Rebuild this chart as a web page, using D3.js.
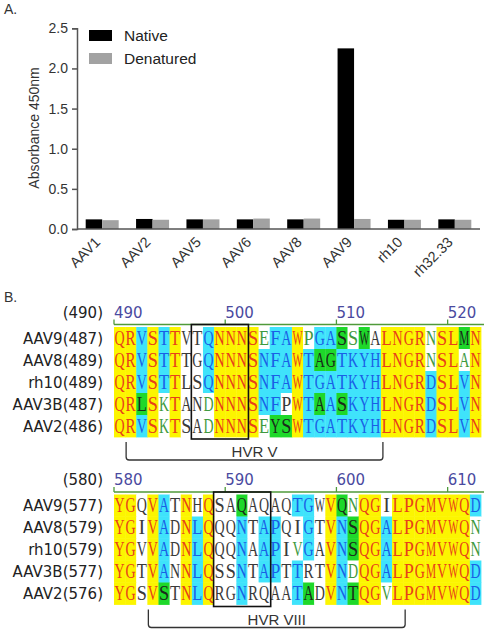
<!DOCTYPE html>
<html>
<head>
<meta charset="utf-8">
<script src="https://cdn.jsdelivr.net/npm/d3@7"></script>
<style>
  body { margin: 0; background: #fff; }
  svg { display: block; }
</style>
</head>
<body>
<div id="space"></div>
<script>
// Panel A data
const serotypes = ["AAV1", "AAV2", "AAV5", "AAV6", "AAV8", "AAV9", "rh10", "rh32.33"];
const nativeVals = [0.12, 0.125, 0.12, 0.12, 0.12, 2.25, 0.115, 0.12];
const denaturedVals = [0.11, 0.115, 0.12, 0.13, 0.13, 0.125, 0.115, 0.115];
const seriesNames = ["Native", "Denatured"];
const yTicks = [0, 0.5, 1.0, 1.5, 2.0, 2.5];

// Panel B data
const alignNames = ["AAV9", "AAV8", "rh10", "AAV3B", "AAV2"];
const block1Start = 490;
const block1Offsets = [487, 489, 489, 487, 486];
const block1Seqs = [
  "QRVSTTVTQNNNSEFAWPGASSWALNGRNSLMN",
  "QRVSTTTGQNNNSNFAWTAGTKYHLNGRNSLAN",
  "QRVSTTLSQNNNSNFAWTGATKYHLNGRDSLVN",
  "QRLSKTANDNNNSNFPWTAASKYHLNGRDSLVN",
  "QRVSKTSADNNNSEYSWTGATKYHLNGRDSLVN"
];
// Y identical, C conserved, G similar block, g weak similar, w non-similar
const block1Marks = [
  "YYCYCYwwCYYYYgCCYgCCGgGwYYYYgYYGY",
  "YYCYCYwwCYYYYCCCYCGGCCCCYYYYgYYgY",
  "YYCYCYwwCYYYYCCCYCCCCCCCYYYYCYYCY",
  "YYGYgYwwgYYYYCCwYCGCGCCCYYYYCYYCY",
  "YYCYgYwwgYYYYgGGYCCCCCCCYYYYCYYCY"
];
const block1Ticks = [490, 500, 510, 520];
const block2Start = 580;
const block2Offsets = [577, 579, 579, 577, 576];
const block2Seqs = [
  "YGQVATNHQSAQAQAQTGWVQNQGILPGMVWQD",
  "YGIVADNLQQQNTAPQIGTVNSQGALPGMVWQN",
  "YGVVADNLQQQNAAPIVGAVNSQGALPGMVWQN",
  "YGTVANNLQSSNTAPTTRTVNDQGALPGMVWQD",
  "YGSVSTNLQRGNRQAATADVNTQGVLPGMVWQD"
];
const block2Marks = [
  "YYwYCwYwYwwGwwwwCCwYGgYYwYYYYYYYC",
  "YYwYCwYCYwwCwCCwwCwYCGYYCYYYYYYYg",
  "YYwYCwYCYwwCwCCwgCwYCGYYCYYYYYYYg",
  "YYwYCwYCYwwCwCCwCwwYCgYYCYYYYYYYC",
  "YYwYGwYCYwwCwwwwCGwYCGYYgYYYYYYYC"
];
const block2Ticks = [580, 590, 600, 610];

const BG = { Y: "#fcf500", C: "#3fe3fb", G: "#1ed82a", g: "#ffffff", w: "#ffffff" };
const FG = { Y: "#e8401a", C: "#1a5fe6", G: "#1a2a1a", g: "#3f9a3f", w: "#3a3a3a" };

var svg = d3.select("#space").append("svg")
  .attr("width", 484).attr("height", 634);

// ---------- Panel A ----------
svg.append("text").attr("x", 4).attr("y", 14)
  .style("font", "14px 'Liberation Sans', Arial, sans-serif").attr("fill", "#333").text("A.");

var y = d3.scaleLinear().domain([0, 2.5]).range([229, 28.3]);
var x0 = d3.scaleBand().domain(serotypes).range([77, 480])
  .paddingInner(0.345).paddingOuter(0.1725);
var x1 = d3.scaleBand().domain(seriesNames).range([0, x0.bandwidth()]);
var color = d3.scaleOrdinal().domain(seriesNames).range(["#000000", "#a2a2a2"]);

var rows = serotypes.map((s, i) => ({ name: s, vals: [nativeVals[i], denaturedVals[i]] }));

var groups = svg.selectAll("g.grp").data(rows).enter().append("g")
  .attr("transform", d => `translate(${x0(d.name)},0)`);
groups.selectAll("rect").data(d => d.vals.map((v, j) => ({ key: seriesNames[j], v: v })))
  .enter().append("rect")
  .attr("x", d => x1(d.key))
  .attr("y", d => y(d.v))
  .attr("width", x1.bandwidth())
  .attr("height", d => y(0) - y(d.v))
  .attr("fill", d => color(d.key));

var yAxis = svg.append("g").attr("transform", "translate(77,0)")
  .call(d3.axisLeft(y).tickValues(yTicks).tickFormat(d3.format(".1f")).tickSize(5).tickPadding(4));
yAxis.selectAll("path, line").attr("stroke", "#555").attr("stroke-width", 1.5);
yAxis.selectAll("text").style("font", "14px 'Liberation Sans', Arial, sans-serif").attr("fill", "#333");

svg.append("line").attr("x1", 77).attr("x2", 480).attr("y1", y(0)).attr("y2", y(0))
  .attr("stroke", "#555").attr("stroke-width", 1.5);

svg.selectAll("text.xlab").data(serotypes).enter().append("text")
  .attr("class", "xlab")
  .attr("transform", d => `translate(${x0(d) + x0.bandwidth() / 2 - 1},243) rotate(-45)`)
  .attr("text-anchor", "end")
  .style("font", "14.5px 'Liberation Sans', Arial, sans-serif").attr("fill", "#333")
  .text(d => d);

svg.append("text")
  .attr("transform", "translate(39,128) rotate(-90)")
  .attr("text-anchor", "middle")
  .style("font", "14px 'Liberation Sans', Arial, sans-serif").attr("fill", "#333")
  .text("Absorbance 450nm");

var legend = svg.selectAll("g.leg").data(seriesNames).enter().append("g")
  .attr("transform", (d, i) => `translate(89,${30 + i * 23})`);
legend.append("rect").attr("width", 23).attr("height", 11).attr("fill", d => color(d));
legend.append("text").attr("x", 35).attr("y", 11)
  .style("font", "15.5px 'Liberation Sans', Arial, sans-serif").attr("fill", "#222")
  .text(d => d);

// ---------- Panel B ----------
svg.append("text").attr("x", 4).attr("y", 302)
  .style("font", "14px 'Liberation Sans', Arial, sans-serif").attr("fill", "#333").text("B.");

var ROW_H = 22;

function drawBlock(start, offsets, seqs, marks, ticks, top, box, bracket, hvr) {
  var n = seqs[0].length;
  var px = d3.scaleLinear().domain([start, start + n]).range([114, 481]);
  var cw = px(start + 1) - px(start);
  var rulerY = top - 2.5;

  // consensus position and ruler
  svg.append("text").attr("x", 103).attr("y", rulerY - 7).attr("text-anchor", "end")
    .style("font", "15px 'DejaVu Sans', Verdana, sans-serif").attr("fill", "#222")
    .text(`(${start})`);
  svg.append("line").attr("x1", px(start)).attr("x2", 484).attr("y1", rulerY).attr("y2", rulerY)
    .attr("stroke", "#4f9a3a").attr("stroke-width", 1.3);
  svg.selectAll(null).data(ticks).enter().append("line")
    .attr("x1", d => px(d)).attr("x2", d => px(d))
    .attr("y1", rulerY).attr("y2", rulerY - 5)
    .attr("stroke", "#4f9a3a").attr("stroke-width", 1.3);
  svg.selectAll(null).data(ticks).enter().append("text")
    .attr("x", d => px(d)).attr("y", rulerY - 7)
    .style("font", "15px 'DejaVu Sans', Verdana, sans-serif").attr("fill", "#4a4aa0")
    .text(d => d);

  seqs.forEach((seq, r) => {
    var ry = top + r * ROW_H;
    svg.append("text").attr("x", 103).attr("y", ry + ROW_H / 2 + 5.5).attr("text-anchor", "end")
      .style("font", "15px 'DejaVu Sans', Verdana, sans-serif").attr("fill", "#222")
      .text(`${alignNames[r]}(${offsets[r]})`);
    var cells = seq.split("").map((c, i) => ({ c: c, m: marks[r][i], p: start + i }));
    svg.selectAll(null).data(cells).enter().append("rect")
      .attr("x", d => px(d.p)).attr("y", ry)
      .attr("width", cw + 0.4).attr("height", ROW_H + 0.4)
      .attr("fill", d => BG[d.m]);
    // residues: wide glyphs squeezed into their cell
    svg.selectAll(null).data(cells).enter().append("text")
      .attr("x", d => px(d.p) + cw / 2).attr("y", ry + 17.5)
      .attr("text-anchor", "middle")
      .style("font", "20px 'Liberation Serif', 'Times New Roman', serif")
      .attr("fill", d => FG[d.m])
      .text(d => d.c)
      .each(function () {
        var w = this.getComputedTextLength();
        if (w > cw - 1) {
          d3.select(this).attr("textLength", cw - 1).attr("lengthAdjust", "spacingAndGlyphs");
        }
      });
  });

  var bottom = top + seqs.length * ROW_H;
  // HVR box
  svg.append("rect")
    .attr("x", px(start + box[0]) - 0.5).attr("y", rulerY)
    .attr("width", px(start + box[1]) - px(start + box[0]) + 1.5)
    .attr("height", bottom + 2 - rulerY)
    .attr("fill", "none").attr("stroke", "#111").attr("stroke-width", 1.6);

  // bracket under the variable region
  var bx0 = px(start + bracket[0]) + 1, bx1 = px(start + bracket[1]) + 2;
  var by0 = bottom + 5, by1 = bottom + 23;
  svg.append("path")
    .attr("d", `M${bx0},${by0} V${by1 - 3} Q${bx0},${by1} ${bx0 + 3},${by1} H${bx1 - 3} Q${bx1},${by1} ${bx1},${by1 - 3} V${by0}`)
    .attr("fill", "none").attr("stroke", "#333").attr("stroke-width", 1.3);
  svg.append("text").attr("x", (bx0 + bx1) / 2).attr("y", by1 - 3)
    .attr("text-anchor", "middle")
    .style("font", "15px 'Liberation Sans', Arial, sans-serif").attr("fill", "#333")
    .text(hvr);
}

drawBlock(block1Start, block1Offsets, block1Seqs, block1Marks, block1Ticks, 327, [7, 12], [1, 24], "HVR V");
drawBlock(block2Start, block2Offsets, block2Seqs, block2Marks, block2Ticks, 494.5, [9, 14], [3, 26], "HVR VIII");
</script>
</body>
</html>
